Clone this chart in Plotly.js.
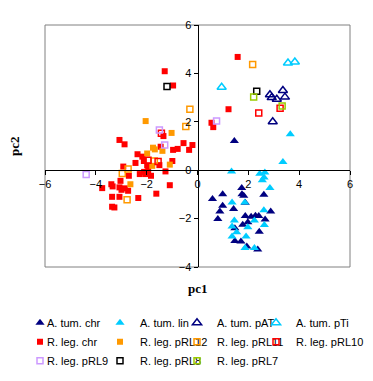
<!DOCTYPE html>
<html>
<head>
<meta charset="utf-8">
<script src="https://cdn.plot.ly/plotly-3.0.1.min.js"></script>
<style>
html,body{margin:0;padding:0;background:#fff}
#chart{width:373px;height:381px}
/* pull legend labels closer to their symbols, as in the reference */
#chart .legendtext{transform:translate(-13px,0px)}
</style>
</head>
<body>
<div id="chart"></div>
<script>
// ---- data (pc1, pc2) ----
const atumChrX = [1.45,1.74,0.99,1.75,1.82,2.61,0.59,0.99,1.42,0.88,0.80,2.88,1.88,2.11,2.28,2.41,2.66,1.78,1.98,1.47,2.43,1.47,1.71,1.94,2.37,1.88];
const atumChrY = [1.21,-0.74,-0.99,-0.99,-1.06,-1.01,-1.19,-1.47,-1.60,-1.71,-2.02,-1.71,-1.89,-1.92,-1.88,-1.89,-2.04,-2.25,-2.15,-2.40,-2.54,-2.93,-2.95,-3.15,-3.28,-1.35];
const atumLinX = [3.65,3.36,1.34,2.45,2.65,2.62,2.55,2.85,1.36,1.86,2.61,1.45,2.24,1.36,1.98,1.54,2.63,1.36,1.91,1.87,2.24];
const atumLinY = [1.49,0.34,-0.05,-0.15,-0.10,-0.30,-0.42,-0.74,-1.33,-1.33,-1.66,-2.08,-2.08,-2.33,-2.36,-2.56,-2.26,-2.74,-2.74,-3.21,-3.22];
const atumPATX = [2.85,2.92,3.12,3.36,3.44,2.96];
const atumPATY = [3.12,3.00,2.93,3.29,3.02,2.00];
const atumPTiX = [3.56,3.83,0.95];
const atumPTiY = [4.43,4.47,3.43];
const rlegChrX = [-1.29,-0.96,1.58,1.22,0.55,0.62,-0.20,-0.33,-1.34,-3.07,-2.87,-1.45,-0.55,-0.96,-0.78,-2.36,-2.17,-2.11,-0.99,-2.44,-1.98,-1.50,-2.92,-1.26,-2.70,-2.27,-2.04,-2.10,-1.94,-1.83,-3.39,-3.34,-3.75,-3.03,-3.07,-2.99,-2.86,-2.73,-1.09,-1.62,-3.36,-3.07,-2.33,-3.36,-3.27];
const rlegChrY = [4.09,3.50,4.68,2.52,1.96,1.78,1.04,0.84,1.41,1.25,1.07,0.97,1.12,0.84,0.88,0.66,0.56,0.38,0.38,0.30,0.20,0.21,0.15,-0.05,-0.23,-0.16,-0.16,-0.07,-0.03,-0.23,-0.58,-0.67,-0.74,-0.44,-0.71,-0.81,-0.75,-0.85,-0.62,-0.97,-1.10,-1.10,-1.15,-1.51,-1.54];
const rlegPRL12X = [-2.04,-1.02,-1.75,-1.68,-1.38,-1.98,-1.09,-1.78,-2.64];
const rlegPRL12Y = [2.03,1.54,0.93,0.86,0.80,0.69,0.23,0.18,-0.58];
const rlegPRL11X = [-0.30,-0.46,-1.70,-2.73,-2.96,2.17,-2.77];
const rlegPRL11Y = [2.52,1.81,0.38,0.05,-0.14,4.37,-1.22];
const rlegPRL10X = [-1.42,-1.95,-1.55,2.41,3.25];
const rlegPRL10Y = [1.53,0.41,0.36,2.36,2.56];
const rlegPRL9X = [-1.50,-1.29,0.75,-4.38];
const rlegPRL9Y = [1.66,1.04,2.03,-0.18];
const rlegPRL8X = [-1.20,2.33];
const rlegPRL8Y = [3.46,3.26];
const rlegPRL7X = [2.21,3.33];
const rlegPRL7Y = [3.02,2.65];
const tickVals = [-6,-4,-2,0,2,4,6];

function tr(name, x, y, symbol, color, size, legend) {
  const open = symbol.indexOf('open') >= 0;
  return {type:'scatter', mode:'markers', name:name, x:x, y:y, legend:legend,
    marker:{symbol:symbol, color:color, size:size, line:{width: open ? 1.5 : 0, color:color}},
    hoverinfo:'x+y'};
}
const traces = [
  tr('A. tum. chr', atumChrX, atumChrY, 'triangle-up', '#000080', 8, 'legend'),
  tr('A. tum. lin', atumLinX, atumLinY, 'triangle-up', '#00CCFF', 8, 'legend2'),
  tr('A. tum. pAT', atumPATX, atumPATY, 'triangle-up-open', '#000080', 8, 'legend3'),
  tr('A. tum. pTi', atumPTiX, atumPTiY, 'triangle-up-open', '#00CCFF', 8, 'legend4'),
  tr('R. leg. chr', rlegChrX, rlegChrY, 'square', '#FF0000', 6, 'legend'),
  tr('R. leg. pRL12', rlegPRL12X, rlegPRL12Y, 'square', '#FF9900', 6, 'legend2'),
  tr('R. leg. pRL11', rlegPRL11X, rlegPRL11Y, 'square-open', '#FF9900', 6, 'legend3'),
  tr('R. leg. pRL10', rlegPRL10X, rlegPRL10Y, 'square-open', '#FF0000', 6, 'legend4'),
  tr('R. leg. pRL9', rlegPRL9X, rlegPRL9Y, 'square-open', '#CC99FF', 6, 'legend'),
  tr('R. leg. pRL8', rlegPRL8X, rlegPRL8Y, 'square-open', '#000000', 6, 'legend2'),
  tr('R. leg. pRL7', rlegPRL7X, rlegPRL7Y, 'square-open', '#99CC00', 6, 'legend3')
];

const axisCommon = {
  showgrid:false, zeroline:false, showline:true, linecolor:'#000', linewidth:1,
  ticks:'outside', ticklen:4, tickcolor:'#000', tickwidth:1,
  tickvals: tickVals, tickfont:{family:'Liberation Sans, Arial, sans-serif', size:11, color:'#000'},
  anchor:'free', fixedrange:true, automargin:false
};
function leg(xpx) {
  return {orientation:'v', xref:'container', yref:'container', x:xpx/373, y:0.191, xanchor:'left', yanchor:'top',
    itemwidth:30, traceorder:'normal', bgcolor:'rgba(0,0,0,0)',
    font:{family:'Liberation Sans, Arial, sans-serif', size:11, color:'#000'}};
}
const layout = {
  width:373, height:381,
  margin:{l:45, r:23, t:25, b:114, pad:0, autoexpand:false},
  paper_bgcolor:'#fff', plot_bgcolor:'#fff',
  font:{family:'Liberation Sans, Arial, sans-serif', size:11, color:'#000'},
  xaxis: Object.assign({}, axisCommon, {range:[-6,6], position:0.4}),
  yaxis: Object.assign({}, axisCommon, {range:[-4,6], position:0.5, tickvals:[-4,-2,0,2,4,6]}),
  showlegend:true,
  legend: leg(20), legend2: leg(100), legend3: leg(177), legend4: leg(256),
  shapes:[{type:'rect', xref:'paper', yref:'paper', x0:0, x1:1, y0:0, y1:1, line:{color:'#808080', width:1}, layer:'below'}],
  annotations:[
    {text:'<b>pc1</b>', xref:'paper', yref:'paper', x:0.5, y:-0.09, xanchor:'center', yanchor:'middle', showarrow:false,
     font:{family:'Liberation Serif, Times New Roman, serif', size:13, color:'#000'}},
    {text:'<b>pc2</b>', xref:'paper', yref:'paper', x:-0.102, y:0.5, xanchor:'center', yanchor:'middle', showarrow:false, textangle:-90,
     font:{family:'Liberation Serif, Times New Roman, serif', size:13, color:'#000'}}
  ]
};
Plotly.newPlot('chart', traces, layout, {displayModeBar:false, staticPlot:true});
</script>
</body>
</html>
